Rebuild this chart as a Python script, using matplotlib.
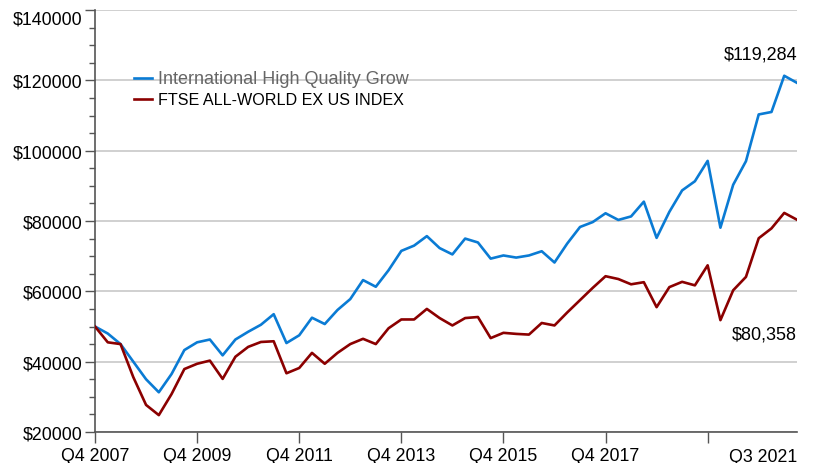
import matplotlib
matplotlib.use("Agg")
import matplotlib.pyplot as plt
from matplotlib.transforms import ScaledTranslation, blended_transform_factory

plt.rcParams['font.family'] = ['Liberation Sans', 'DejaVu Sans']

# quarterly values, Q4 2007 .. Q3 2021
growth = [50000, 48000, 45000, 40000, 35000, 31300, 36500, 43300, 45500, 46300,
          41800, 46300, 48500, 50500, 53500, 45300, 47500, 52500, 50700, 54700,
          57800, 63200, 61300, 66000, 71500, 73000, 75700, 72300, 70500, 75000,
          73900, 69300, 70200, 69600, 70200, 71400, 68200, 73600, 78300, 79700,
          82200, 80300, 81300, 85500, 75200, 82600, 88700, 91300, 97100, 78100,
          90300, 97000, 110300, 111000, 121300, 119284]
ftse = [50000, 45500, 45000, 35600, 27700, 24800, 30800, 37900, 39400, 40300,
        35100, 41400, 44200, 45600, 45800, 36700, 38200, 42500, 39400, 42500,
        45000, 46500, 45000, 49500, 52000, 52000, 55000, 52400, 50300, 52400,
        52700, 46700, 48200, 47900, 47700, 51000, 50300, 54000, 57500, 61000,
        64300, 63500, 62000, 62600, 55500, 61200, 62700, 61700, 67400, 51800,
        60300, 64100, 75100, 77900, 82300, 80358]
tick_pos = [0, 8, 16, 24, 32, 40, 48]
tick_labels = ['Q4 2007', 'Q4 2009', 'Q4 2011', 'Q4 2013', 'Q4 2015', 'Q4 2017', '']
last_label = 'Q3 2021'
# first name is cut off in the original legend box
names = ['International High Quality Grow', 'FTSE ALL-WORLD EX US INDEX']
end_labels = ['$119,284', '$80,358']

fig = plt.figure(figsize=(8.13, 4.64), dpi=100)
ax = fig.add_axes([95 / 813, 31 / 464, 702 / 813, 422 / 464])

x = list(range(len(growth)))
ax.plot(x, growth, color='#0a7bd4', lw=1.9, label=names[0], zorder=3)
ax.plot(x, ftse, color='#8b0000', lw=1.9, label=names[1], zorder=3)

ax.set_xlim(0, len(growth) - 1)
ax.set_ylim(20000, 140000)
ax.set_yticks(range(20000, 140001, 20000))
ax.set_yticklabels(['$%d' % v for v in range(20000, 140001, 20000)], fontsize=12.8)
ax.set_yticks(range(20000, 140001, 5000), minor=True)
ax.set_xticks(tick_pos)
ax.set_xticklabels(tick_labels, fontsize=12.8)
ax.tick_params(axis='y', which='major', length=7, width=1, color='#555555', pad=2)
ax.tick_params(axis='y', which='minor', length=4, width=1, color='#555555')
ax.tick_params(axis='x', which='major', length=8, width=1, color='#555555', pad=3)

# top label sits a bit lower, inside the figure
top = ax.get_yticklabels()[-1]
top.set_transform(top.get_transform() + ScaledTranslation(0, -0.07, fig.dpi_scale_trans))

trans = blended_transform_factory(ax.transData, ax.transAxes)
ax.text(len(growth) - 1, -0.037, last_label, transform=trans, ha='right', va='top',
        fontsize=12.8)

ax.grid(axis='y', color='#c8c8c8', lw=1.2, zorder=0)
for s in ['top', 'right']:
    ax.spines[s].set_visible(False)
for s in ['left', 'bottom']:
    ax.spines[s].set_color('#555555')
    ax.spines[s].set_linewidth(1.2)

ax.text(len(growth) - 1, 127600, end_labels[0], ha='right', va='center', fontsize=13)
ax.text(len(growth) - 1, 47900, end_labels[1], ha='right', va='center', fontsize=13)

leg = fig.legend(loc='upper left', bbox_to_anchor=(128 / 813, 1 - 65 / 464),
                 frameon=False, fontsize=11.6, handlelength=1.1, handletextpad=0.35,
                 labelspacing=0.3, borderaxespad=0)
leg.get_texts()[0].set_color('#666666')
leg.get_texts()[0].set_fontsize(13)

fig.savefig('out.png', dpi=100)
